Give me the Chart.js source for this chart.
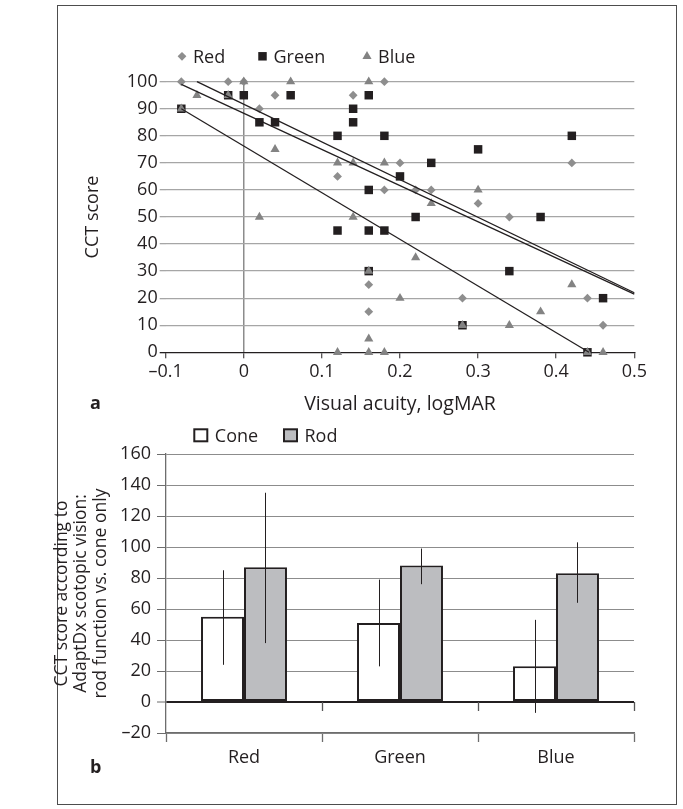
<!DOCTYPE html>
<html lang="en">
<head>
    <meta charset="UTF-8">
    <title>CCT score vs visual acuity / AdaptDx</title>
    <!-- Chart.js -->
    <script src="https://cdn.jsdelivr.net/npm/chart.js@4.4.0/dist/chart.umd.min.js"></script>
    <style>
        html, body { margin: 0; padding: 0; background: #fff; }
        #figure { position: relative; width: 683px; height: 809px; }
        #frame {
            position: absolute; left: 57px; top: 5px; width: 620px; height: 800px;
            border: 1.5px solid #4d4d4d; box-sizing: border-box;
        }
        .panel { position: absolute; left: 0; }
        .panel canvas { display: block; }
    </style>
</head>
<body>
<div id="figure">
    <div id="frame"></div>
    <div class="panel" style="top:0"><canvas id="scatterChart" width="683" height="420"></canvas></div>
    <div class="panel" style="top:420px"><canvas id="barChart" width="683" height="389"></canvas></div>
</div>

<script>
    // panel a: CCT score against visual acuity (logMAR)
    const redX   = [-0.08, -0.02, 0, 0.02, 0.04, 0.12, 0.14, 0.18, 0.2, 0.18, 0.22, 0.24, 0.3, 0.34, 0.16, 0.16, 0.28, 0.42, 0.44, 0.46];
    const redY   = [100, 100, 100, 90, 95, 65, 95, 100, 70, 60, 60, 60, 55, 50, 25, 15, 20, 70, 20, 10];
    const greenX = [-0.08, -0.02, 0, 0.02, 0.04, 0.06, 0.12, 0.12, 0.14, 0.14, 0.16, 0.18, 0.2, 0.24, 0.3, 0.16, 0.22, 0.16, 0.18, 0.16, 0.34, 0.28, 0.42, 0.38, 0.46, 0.44];
    const greenY = [90, 95, 95, 85, 85, 95, 80, 45, 90, 85, 95, 80, 65, 70, 75, 60, 50, 45, 45, 30, 30, 10, 80, 50, 20, 0];
    const blueX  = [-0.08, -0.06, -0.02, 0, 0.02, 0.04, 0.06, 0.12, 0.12, 0.14, 0.14, 0.16, 0.16, 0.16, 0.16, 0.18, 0.18, 0.2, 0.22, 0.24, 0.28, 0.3, 0.34, 0.38, 0.42, 0.44, 0.46];
    const blueY  = [90, 95, 95, 100, 50, 75, 100, 70, 0, 70, 50, 100, 30, 5, 0, 70, 0, 20, 35, 55, 10, 60, 10, 15, 25, 0, 0];

    // linear trend lines (end points)
    const trendRedX   = [-0.06, 0.5];
    const trendRedY   = [100, 22];
    const trendGreenX = [-0.08, 0.5];
    const trendGreenY = [99, 21.5];
    const trendBlueX  = [-0.08, 0.442];
    const trendBlueY  = [90, 0];

    const xTicksA = [-0.1, 0, 0.1, 0.2, 0.3, 0.4, 0.5];
    const yTicksA = [0, 10, 20, 30, 40, 50, 60, 70, 80, 90, 100];

    // panel b: CCT score by AdaptDx scotopic vision
    const barCategories = ['Red', 'Green', 'Blue'];
    const coneMean = [55, 51, 23];
    const coneLow  = [24, 23, -7];
    const coneHigh = [85, 79, 53];
    const rodMean  = [87, 88, 83];
    const rodLow   = [38, 76, 64];
    const rodHigh  = [135, 99, 103];
    const yTicksB = [-20, 0, 20, 40, 60, 80, 100, 120, 140, 160];

    const ink = '#231f20';
    const fontFamily = "'Open Sans', 'Noto Sans', sans-serif";
    Chart.defaults.font.family = fontFamily;
    Chart.defaults.font.size = 18;
    Chart.defaults.color = ink;

    const fmt = v => (v < 0 ? '\u2013' : '') + String(Math.abs(v));
    const toPoints = (xs, ys) => xs.map((x, i) => ({ x: x, y: ys[i] }));
    const tickVal = c => (c.tick ? c.tick.value : null);

    // small plugins
    const markLegend = {
        id: 'markLegend',
        afterDraw(chart, args, opts) {
            const ctx = chart.ctx;
            ctx.save();
            opts.items.forEach(it => {
                const ds = chart.data.datasets[it.index];
                ctx.fillStyle = ds.backgroundColor;
                Chart.helpers.drawPoint(ctx, { pointStyle: ds.pointStyle, radius: ds.pointRadius, borderWidth: 0, rotation: 0 }, it.x, opts.y);
                ctx.fillStyle = ink;
                ctx.font = '18px ' + fontFamily;
                ctx.textBaseline = 'alphabetic';
                ctx.fillText(ds.label, it.x + opts.gap, opts.baseline);
            });
            ctx.restore();
        }
    };

    const boxLegend = {
        id: 'boxLegend',
        afterDraw(chart, args, opts) {
            const ctx = chart.ctx;
            ctx.save();
            opts.items.forEach(it => {
                const ds = chart.data.datasets[it.index];
                ctx.fillStyle = ds.backgroundColor;
                ctx.strokeStyle = ink;
                ctx.lineWidth = 2;
                ctx.fillRect(it.x + 1, opts.top + 1, opts.w - 2, opts.h - 2);
                ctx.strokeRect(it.x + 1, opts.top + 1, opts.w - 2, opts.h - 2);
                ctx.fillStyle = ink;
                ctx.font = '18px ' + fontFamily;
                ctx.fillText(ds.label, it.x + opts.w + opts.gap, opts.baseline);
            });
            ctx.restore();
        }
    };

    const panelLetter = {
        id: 'panelLetter',
        afterDraw(chart, args, opts) {
            const ctx = chart.ctx;
            ctx.save();
            ctx.fillStyle = ink;
            ctx.font = 'bold 18px ' + fontFamily;
            ctx.fillText(opts.text, opts.x, opts.y);
            ctx.restore();
        }
    };

    // tick marks hanging from the zero line at the category borders
    const zeroTicks = {
        id: 'zeroTicks',
        afterDatasetsDraw(chart) {
            const ctx = chart.ctx, xs = chart.scales.x, ys = chart.scales.y;
            const y0 = Math.round(ys.getPixelForValue(0));
            ctx.save();
            ctx.strokeStyle = '#555';
            ctx.lineWidth = 1.3;
            for (let k = 1; k <= barCategories.length; k++) {
                const px = Math.round(xs.getPixelForValue(k - 0.5)) + 0.5;
                ctx.beginPath();
                ctx.moveTo(px, y0);
                ctx.lineTo(px, y0 + 9);
                ctx.stroke();
            }
            ctx.restore();
        }
    };

    const errorBars = {
        id: 'errorBars',
        afterDatasetsDraw(chart) {
            const ctx = chart.ctx, ys = chart.scales.y;
            ctx.save();
            ctx.strokeStyle = ink;
            ctx.lineWidth = 1;
            chart.data.datasets.forEach((ds, i) => {
                chart.getDatasetMeta(i).data.forEach((bar, j) => {
                    const px = Math.round(bar.x) + 0.5;
                    ctx.beginPath();
                    ctx.moveTo(px, ys.getPixelForValue(ds.low[j]));
                    ctx.lineTo(px, ys.getPixelForValue(ds.high[j]));
                    ctx.stroke();
                });
            });
            ctx.restore();
        }
    };

    // Panel a
    const trendStyle = { showLine: true, pointRadius: 0, borderColor: ink, borderWidth: 1.3, order: 0, clip: false };
    new Chart(document.getElementById('scatterChart'), {
        type: 'scatter',
        data: {
            datasets: [
                { label: 'Red', data: toPoints(redX, redY), pointStyle: 'rectRot', pointRadius: 4.4,
                  backgroundColor: '#8e8e8e', pointBorderWidth: 0, order: 3, clip: false },
                { label: 'Green', data: toPoints(greenX, greenY), pointStyle: 'rect', pointRadius: 6,
                  backgroundColor: ink, pointBorderWidth: 0, order: 2, clip: false },
                { label: 'Blue', data: toPoints(blueX, blueY), pointStyle: 'triangle', pointRadius: 5.3,
                  backgroundColor: '#838383', pointBorderWidth: 0, order: 1, clip: false },
                Object.assign({ label: 'trendRed', data: toPoints(trendRedX, trendRedY) }, trendStyle),
                Object.assign({ label: 'trendGreen', data: toPoints(trendGreenX, trendGreenY) }, trendStyle),
                Object.assign({ label: 'trendBlue', data: toPoints(trendBlueX, trendBlueY) }, trendStyle)
            ]
        },
        options: {
            responsive: false,
            animation: false,
            events: [],
            layout: { padding: { left: 80, top: 81.7, right: 48.7, bottom: 4 } },
            plugins: {
                legend: { display: false },
                tooltip: { enabled: false },
                markLegend: { items: [{ index: 0, x: 182 }, { index: 1, x: 262.5 }, { index: 2, x: 367 }], y: 56.3, gap: 11, baseline: 63 },
                panelLetter: { text: 'a', x: 90, y: 409 }
            },
            scales: {
                x: {
                    type: 'linear', min: -0.1, max: 0.5,
                    afterBuildTicks: s => { s.ticks = xTicksA.map(v => ({ value: v })); },
                    afterFit: s => { s.height = 63.7; },
                    ticks: { callback: v => fmt(v), padding: 3, maxRotation: 0 },
                    grid: {
                        color: c => tickVal(c) === 0 ? '#8c8c8c' : 'rgba(0,0,0,0)',
                        lineWidth: 1.5, tickColor: ink, tickLength: 6, tickWidth: 1
                    },
                    border: { display: true, color: ink, width: 1.3 },
                    title: { display: true, text: 'Visual acuity, logMAR', padding: 0, font: { size: 19.5 } }
                },
                y: {
                    min: 0, max: 100,
                    afterBuildTicks: s => { s.ticks = yTicksA.map(v => ({ value: v })); },
                    afterFit: s => { s.width = 85.7; },
                    ticks: { callback: v => fmt(v), padding: 2 },
                    grid: {
                        color: c => tickVal(c) === 0 ? 'rgba(0,0,0,0)' : '#a6a6a6',
                        tickColor: c => tickVal(c) === 0 ? ink : '#a6a6a6',
                        lineWidth: 1.3, tickLength: 6
                    },
                    border: { display: false },
                    title: { display: true, text: 'CCT score', padding: { top: 2, bottom: 0 } }
                }
            }
        },
        plugins: [markLegend, panelLetter]
    });

    // Panel b
    new Chart(document.getElementById('barChart'), {
        type: 'bar',
        data: {
            labels: barCategories,
            datasets: [
                { label: 'Cone', data: coneMean, low: coneLow, high: coneHigh,
                  backgroundColor: '#ffffff', borderColor: ink, borderWidth: 2, borderSkipped: false },
                { label: 'Rod', data: rodMean, low: rodLow, high: rodHigh,
                  backgroundColor: '#bcbdc0', borderColor: ink, borderWidth: 2, borderSkipped: false }
            ]
        },
        options: {
            responsive: false,
            animation: false,
            events: [],
            datasets: { bar: { categoryPercentage: 0.551, barPercentage: 1 } },
            layout: { padding: { left: 48, top: 34, right: 49, bottom: 20 } },
            plugins: {
                legend: { display: false },
                tooltip: { enabled: false },
                boxLegend: { items: [{ index: 0, x: 193.3 }, { index: 1, x: 283 }], top: 8.3, w: 15, h: 14, gap: 6.5, baseline: 22.3 },
                panelLetter: { text: 'b', x: 90, y: 353 }
            },
            scales: {
                x: {
                    offset: true,
                    afterFit: s => { s.height = 56; },
                    ticks: { padding: 5 },
                    grid: { offset: true, drawOnChartArea: false, tickLength: 9, tickColor: '#6d6d6d', tickWidth: 1.3 },
                    border: { display: true, color: '#6d6d6d', width: 1.3 }
                },
                y: {
                    min: -20, max: 160,
                    afterBuildTicks: s => { s.ticks = yTicksB.map(v => ({ value: v })); },
                    afterFit: s => { s.width = 118; },
                    ticks: { callback: v => fmt(v), padding: 6 },
                    grid: {
                        color: c => tickVal(c) === 0 ? ink : '#8c8c8c',
                        lineWidth: c => tickVal(c) === 0 ? 2 : 1,
                        tickColor: '#6d6d6d', tickLength: 9, tickWidth: 1
                    },
                    border: { display: true, color: '#6d6d6d', width: 1.3 },
                    title: {
                        display: true,
                        text: ['CCT score according to', 'AdaptDx scotopic vision:', 'rod function vs. cone only'],
                        padding: { top: 4, bottom: 0 },
                        font: { size: 17.5, lineHeight: 1.12 }
                    }
                }
            }
        },
        plugins: [zeroTicks, errorBars, boxLegend, panelLetter]
    });
</script>
</body>
</html>
